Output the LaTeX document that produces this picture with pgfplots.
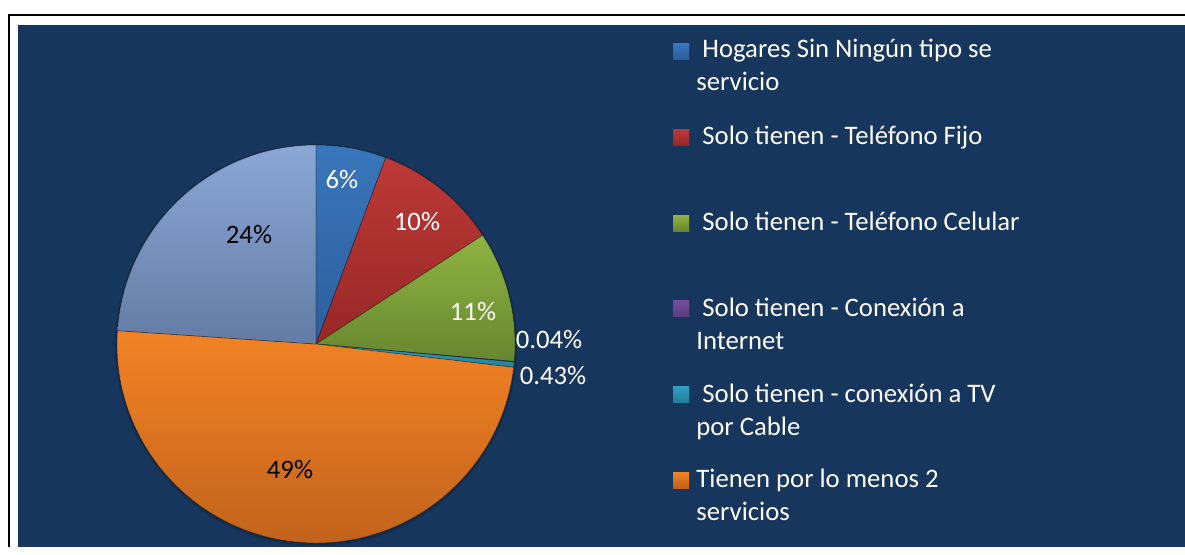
\documentclass[border=0pt]{standalone}
\usepackage{fontspec}
\setmainfont{Carlito}
\usepackage{pgfplots}
\usepackage{pgfplotstable}
\pgfplotsset{compat=1.18}

\definecolor{navy}{RGB}{23,54,93}
% slice colours, lighter top / darker bottom
\definecolor{ctop0}{RGB}{58,118,188}  \definecolor{cbot0}{RGB}{44,94,156}
\definecolor{ctop1}{RGB}{188,57,54}   \definecolor{cbot1}{RGB}{152,40,39}
\definecolor{ctop2}{RGB}{142,180,66}  \definecolor{cbot2}{RGB}{104,134,48}
\definecolor{ctop3}{RGB}{118,78,160}  \definecolor{cbot3}{RGB}{92,60,128}
\definecolor{ctop4}{RGB}{46,162,194}  \definecolor{cbot4}{RGB}{34,128,156}
\definecolor{ctop5}{RGB}{242,131,37}  \definecolor{cbot5}{RGB}{192,97,27}
\definecolor{ctop6}{RGB}{138,167,214} \definecolor{cbot6}{RGB}{100,124,164}

% share of households, in %
\pgfplotstableread{
idx val
0 5.7
1 10.1
2 10.6
3 0.04
4 0.43
5 49.2
6 23.93
}\piedata

\newcommand{\lgfont}{\fontsize{13.35bp}{16.5bp}\selectfont}

\begin{document}
\begin{tikzpicture}
% wedges from cumulative angles, clockwise from the top
\gdef\piecmds{}
\pgfmathsetmacro{\curA}{90}
\pgfplotsforeachungrouped \i in {0,...,6}{%
  \pgfplotstablegetelem{\i}{val}\of\piedata
  \pgfmathsetmacro{\nextA}{\curA-3.6*\pgfplotsretval}%
  \xdef\piecmds{\unexpanded\expandafter{\piecmds}%
    \noexpand\path[top color=ctop\i,bottom color=cbot\i,draw=black,draw opacity=0.3,line width=0.4bp]
      (axis cs:316,344) -- ++(\curA:99.5bp) arc[start angle=\curA,end angle=\nextA,radius=99.5bp] -- cycle;}%
  \global\let\curA\nextA
}
\begin{axis}[
  x=0.5bp, y=0.5bp, y dir=reverse,
  xmin=0, xmax=1185, ymin=0, ymax=547,
  hide axis, clip=false]
% frame and panel
\path[fill=white] (axis cs:0,0) rectangle (axis cs:1185,547);
\path[fill=black] (axis cs:8,14) rectangle (axis cs:1185,16);
\path[fill=black] (axis cs:8,14) rectangle (axis cs:10,547);
\path[fill=navy] (axis cs:18,25) rectangle (axis cs:1185,547);
% soft shadow
\path[fill=black,opacity=0.1] (axis cs:316,345) circle[radius=100.7bp];
\path[fill=black,opacity=0.1] (axis cs:316,345) circle[radius=100.1bp];
\piecmds
% data labels
\path[font=\lgfont]
  (axis cs:342,179) node[text=white] {6\%}
  (axis cs:417,221) node[text=white] {10\%}
  (axis cs:473,311) node[text=white] {11\%}
  (axis cs:549,339) node[text=white] {0.04\%}
  (axis cs:553,375) node[text=white] {0.43\%}
  (axis cs:290,469) node[text=black] {49\%}
  (axis cs:249,234) node[text=black] {24\%};
% legend
\path[top color=ctop0,bottom color=cbot0] (axis cs:673,43) rectangle (axis cs:689,59);
\path[top color=ctop1,bottom color=cbot1] (axis cs:673,129) rectangle (axis cs:689,145);
\path[top color=ctop2,bottom color=cbot2] (axis cs:673,215) rectangle (axis cs:689,231);
\path[top color=ctop3,bottom color=cbot3] (axis cs:673,300) rectangle (axis cs:689,316);
\path[top color=ctop4,bottom color=cbot4] (axis cs:673,386) rectangle (axis cs:689,402);
\path[top color=ctop5,bottom color=cbot5] (axis cs:673,472) rectangle (axis cs:689,488);
\path[font=\lgfont, every node/.style={anchor=base west, inner sep=0pt, text=white}]
  (axis cs:696,57.7) node {\ Hogares Sin Ningún tipo se}
  (axis cs:696,90.7) node {servicio}
  (axis cs:696,144.5) node {\ Solo tienen - Teléfono Fijo}
  (axis cs:696,230.7) node {\ Solo tienen - Teléfono Celular}
  (axis cs:696,316) node {\ Solo tienen - Conexión a}
  (axis cs:696,349.5) node {Internet}
  (axis cs:696,402) node {\ Solo tienen - conexión a TV}
  (axis cs:696,435.7) node {por Cable}
  (axis cs:696,487.7) node {Tienen por lo menos 2}
  (axis cs:696,520) node {servicios};
\end{axis}
\end{tikzpicture}
\end{document}
